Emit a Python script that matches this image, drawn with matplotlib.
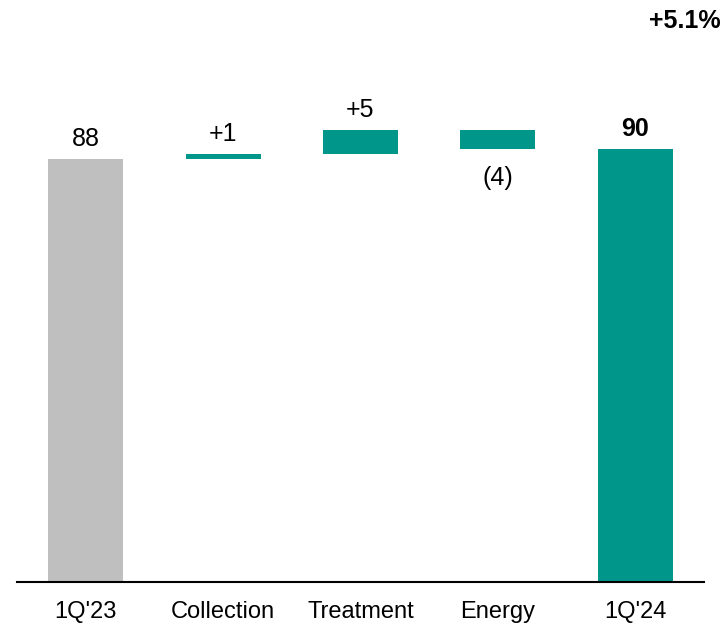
import numpy as np
import matplotlib.pyplot as plt

plt.rcParams['font.family'] = ['Liberation Sans', 'DejaVu Sans']

categories = ["1Q'23", "Collection", "Treatment", "Energy", "1Q'24"]
start_value = 88
deltas = [1, 5, -4]
end_value = 90
delta_labels = ["+1", "+5", "(4)"]
growth_label = "+5.1%"

grey = '#bfbfbf'
teal = '#00968a'

fig = plt.figure(figsize=(7.26, 6.26), dpi=100)
ax = fig.add_axes([0.0234, 0.071, 0.946, 0.929])

x = np.arange(len(categories))
w = 0.546
lab_fs = 18

# totals
ax.bar(x[0], start_value, width=w, color=grey)
ax.bar(x[-1], end_value, width=w, color=teal)
ax.annotate(str(start_value), (x[0], start_value), xytext=(0, 6),
            textcoords='offset points', ha='center', va='bottom', fontsize=lab_fs)
ax.annotate(str(end_value), (x[-1], end_value), xytext=(0, 6),
            textcoords='offset points', ha='center', va='bottom',
            fontsize=lab_fs, fontweight='bold')

# floating steps
running = start_value
for i, (d, lab) in enumerate(zip(deltas, delta_labels), start=1):
    bottom = running if d >= 0 else running + d
    ax.bar(x[i], abs(d), bottom=bottom, width=w, color=teal)
    if d >= 0:
        ax.annotate(lab, (x[i], running + d), xytext=(0, 6),
                    textcoords='offset points', ha='center', va='bottom', fontsize=lab_fs)
    else:
        ax.annotate(lab, (x[i], running + d), xytext=(0, -12),
                    textcoords='offset points', ha='center', va='top', fontsize=lab_fs)
    running += d

fig.text(0.993, 0.966, growth_label, ha='right', va='center',
         fontsize=18, fontweight='bold')

ax.set_xlim(-0.5, 4.5)
ax.set_ylim(0, 121.1)
ax.set_xticks(x)
ax.set_xticklabels(categories, fontsize=17)
ax.tick_params(axis='x', length=0, pad=14)
ax.set_yticks([])
for s in ['top', 'right', 'left']:
    ax.spines[s].set_visible(False)
ax.spines['bottom'].set_linewidth(1.5)

fig.savefig('out.png', dpi=100)
